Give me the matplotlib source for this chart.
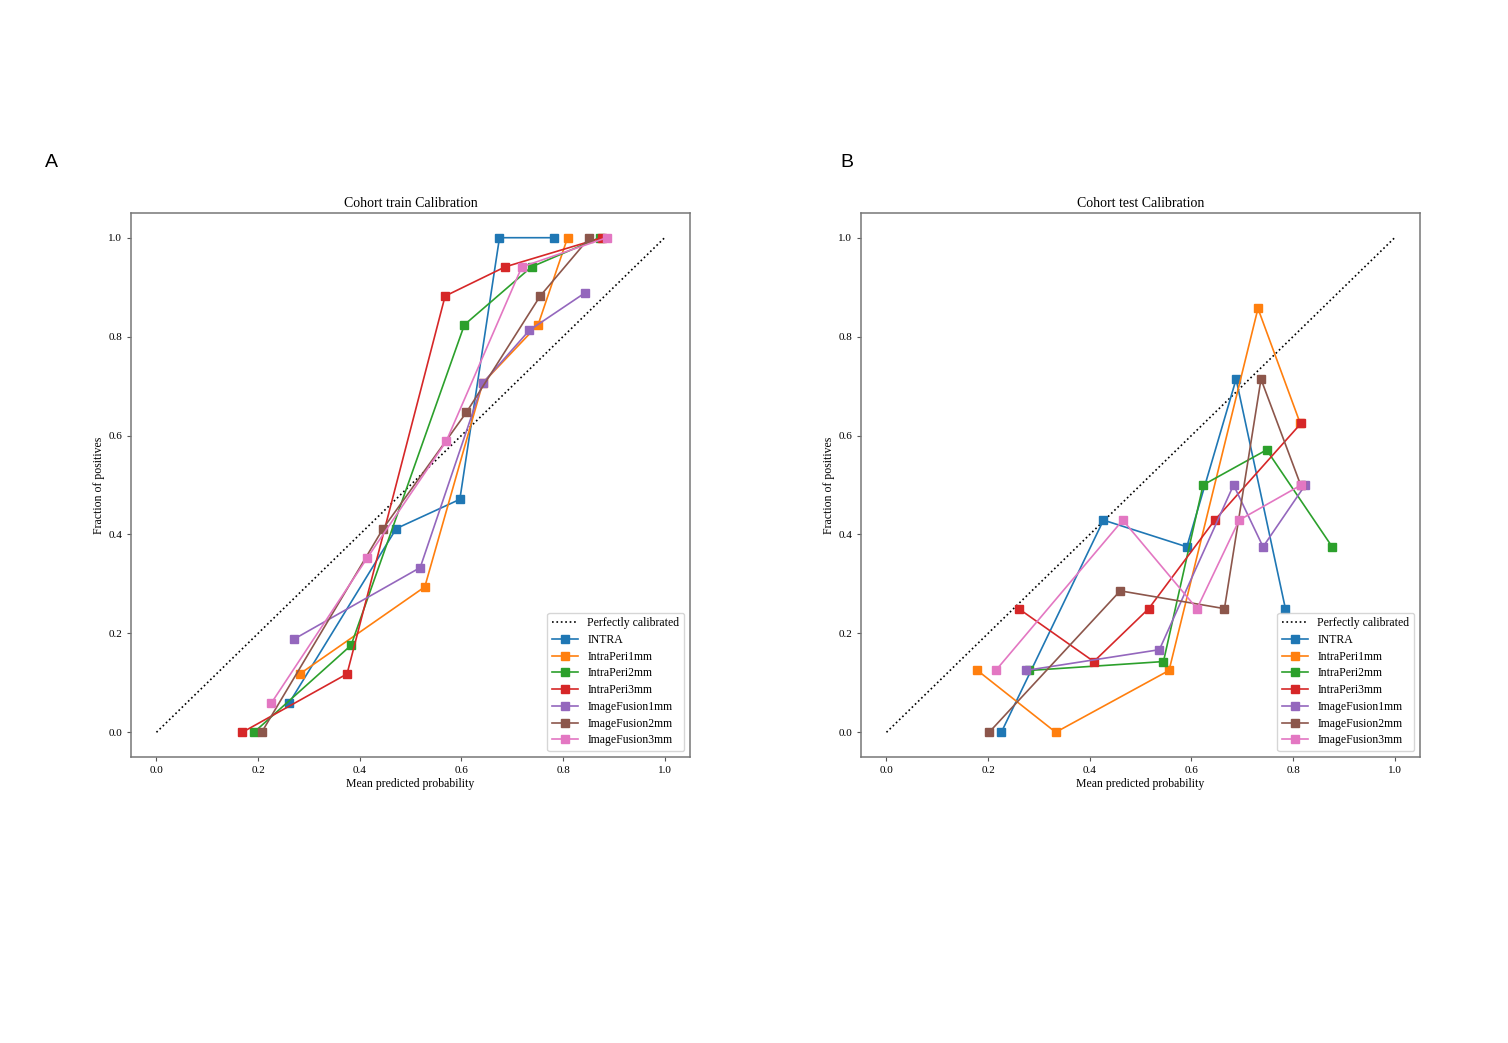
import matplotlib
matplotlib.use('Agg')
import matplotlib.pyplot as plt

plt.rcParams['font.family'] = ['Liberation Serif', 'DejaVu Serif']

models = ['INTRA', 'IntraPeri1mm', 'IntraPeri2mm', 'IntraPeri3mm',
          'ImageFusion1mm', 'ImageFusion2mm', 'ImageFusion3mm']

# train cohort: mean predicted probability / fraction of positives per bin
train_x = [
    [0.261, 0.472, 0.597, 0.675, 0.783],
    [0.282, 0.528, 0.642, 0.751, 0.809],
    [0.192, 0.383, 0.606, 0.738, 0.872],
    [0.169, 0.375, 0.568, 0.686, 0.877],
    [0.270, 0.519, 0.642, 0.734, 0.844],
    [0.207, 0.446, 0.610, 0.755, 0.852],
    [0.226, 0.415, 0.570, 0.719, 0.886],
]
train_y = [
    [0.059, 0.412, 0.471, 1.0, 1.0],
    [0.118, 0.294, 0.706, 0.824, 1.0],
    [0.0, 0.176, 0.824, 0.941, 1.0],
    [0.0, 0.118, 0.882, 0.941, 1.0],
    [0.188, 0.333, 0.706, 0.813, 0.889],
    [0.0, 0.412, 0.647, 0.882, 1.0],
    [0.059, 0.353, 0.588, 0.941, 1.0],
]

# test cohort
test_x = [
    [0.226, 0.427, 0.591, 0.688, 0.785],
    [0.179, 0.333, 0.556, 0.731, 0.814],
    [0.281, 0.545, 0.623, 0.748, 0.877],
    [0.260, 0.408, 0.516, 0.646, 0.816],
    [0.274, 0.537, 0.683, 0.741, 0.824],
    [0.202, 0.460, 0.665, 0.737, 0.815],
    [0.215, 0.465, 0.611, 0.694, 0.816],
]
test_y = [
    [0.0, 0.429, 0.375, 0.714, 0.25],
    [0.125, 0.0, 0.125, 0.857, 0.625],
    [0.125, 0.143, 0.5, 0.571, 0.375],
    [0.25, 0.143, 0.25, 0.429, 0.625],
    [0.125, 0.167, 0.5, 0.375, 0.5],
    [0.0, 0.286, 0.25, 0.714, 0.5],
    [0.125, 0.429, 0.25, 0.429, 0.5],
]

fig = plt.figure(figsize=(15.08, 10.43), dpi=100)
ax1 = fig.add_axes([0.0869, 0.2742, 0.3707, 0.5216])
ax2 = fig.add_axes([0.5710, 0.2742, 0.3707, 0.5216])


def draw(ax, xs, ys, title):
    ax.plot([0, 1], [0, 1], 'k:', lw=1.2, label='Perfectly calibrated')
    for name, x, y in zip(models, xs, ys):
        ax.plot(x, y, 's-', lw=1.2, ms=5.5, label=name)
    ax.set_xlim(-0.05, 1.05)
    ax.set_ylim(-0.05, 1.05)
    ax.set_xticks([0, 0.2, 0.4, 0.6, 0.8, 1.0])
    ax.set_yticks([0, 0.2, 0.4, 0.6, 0.8, 1.0])
    ax.tick_params(labelsize=8, length=3, color='#555555')
    for s in ax.spines.values():
        s.set_color('#777777')
        s.set_linewidth(1.1)
    ax.set_title(title, fontsize=10, pad=4)
    ax.set_xlabel('Mean predicted probability', fontsize=8.5, labelpad=2)
    ax.set_ylabel('Fraction of positives', fontsize=8.5, labelpad=2)
    ax.legend(loc='lower right', fontsize=8.5, handlelength=2.2,
              labelspacing=0.4, borderpad=0.4)


draw(ax1, train_x, train_y, 'Cohort train Calibration')
draw(ax2, test_x, test_y, 'Cohort test Calibration')

fig.text(0.030, 0.840, 'A', fontsize=14, family='Liberation Sans')
fig.text(0.557, 0.840, 'B', fontsize=14, family='Liberation Sans')

fig.savefig('out.png', dpi=100)
